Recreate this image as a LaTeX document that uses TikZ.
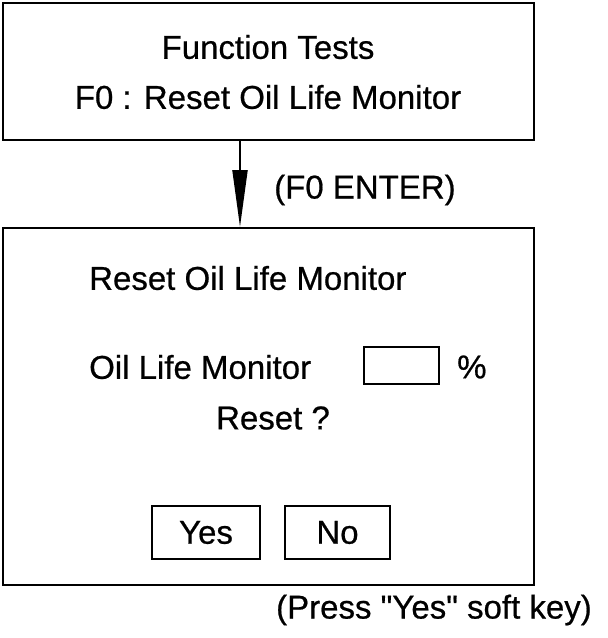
\documentclass[tikz,border=0pt]{standalone}
\usepackage{fontspec}
\newfontfamily\arialf{Liberation Sans}[FakeBold=0.6]
\usetikzlibrary{arrows.meta}
\begin{document}
\begin{tikzpicture}[x=1pt,y=-1pt,
  frame/.style={draw=black,line width=2pt,minimum width=#1,inner sep=0pt,rectangle},
  txt/.style={inner sep=0pt,font=\arialf\fontsize{33}{39}\selectfont},
  conn/.style={line width=2pt,-{Triangle[length=57pt,width=15pt]}}]
\useasboundingbox (0,0) rectangle (608,638);
% boxes
\node[frame=531pt,minimum height=137pt] (top) at (268.5,71.5) {};
\node[frame=531pt,minimum height=357pt] (bot) at (268.5,406.5) {};
\node[frame=75pt,minimum height=37pt,line width=1.6pt] (field) at (401.5,365.5) {};
\node[frame=108pt,minimum height=53pt,line width=1.6pt] (yes) at (206,532.5) {};
\node[frame=105pt,minimum height=53pt,line width=1.6pt] (no) at (337.5,532.5) {};
% texts
\node[txt] (t1) at (268,47) {Function Tests};
\node[txt] (t2) at (268,97) {F0 : Reset Oil Life Monitor};
\node[txt,anchor=west] (enter) at (274,190) {(F0 ENTER)};
\node[txt,anchor=west] (b1) at (89,278) {Reset Oil Life Monitor};
\node[txt,anchor=west] (b2) at (89,367) {Oil Life Monitor};
\node[txt,anchor=west] (pct) at (457,367) {\%};
\node[txt] (b3) at (273,418) {Reset ?};
\node[txt] at (yes) {Yes};
\node[txt] at (no) {No};
\node[txt,anchor=east] (press) at (592,610) {(Press "Yes" soft key)};
% arrow
\coordinate (ax) at (240,0);
\draw[conn] (top.south -| ax) -- (bot.north -| ax);
\end{tikzpicture}
\end{document}
